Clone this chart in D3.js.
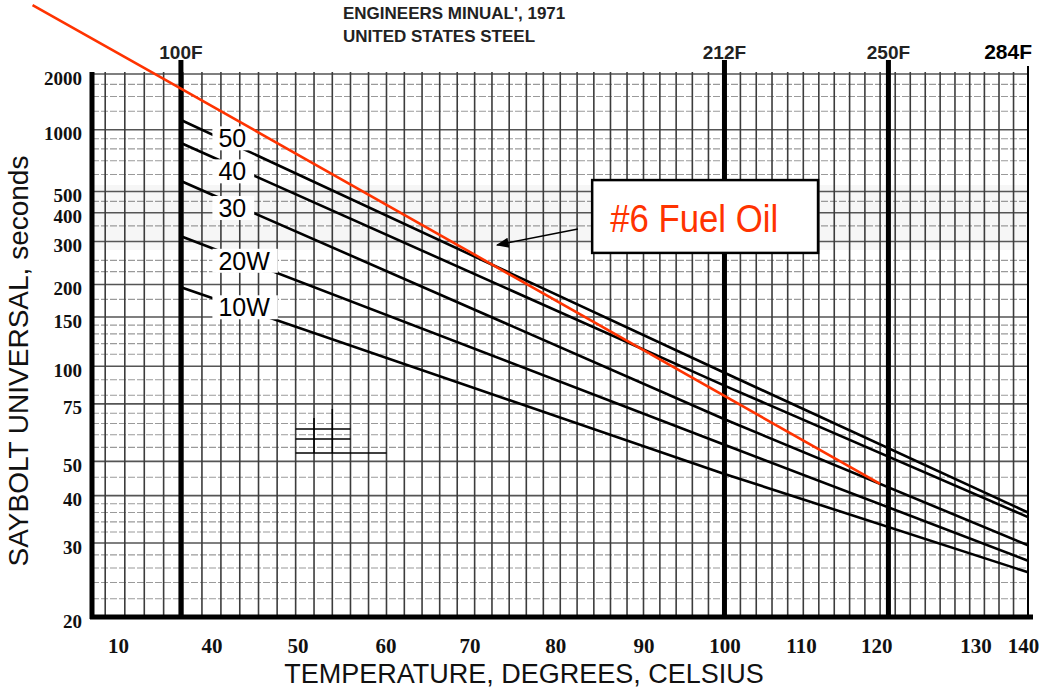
<!DOCTYPE html>
<html>
<head>
<meta charset="utf-8">
<script src="https://cdnjs.cloudflare.com/ajax/libs/d3/7.8.5/d3.min.js"></script>
<style>
  body { margin: 0; background: #fff; }
  svg { display: block; }
</style>
</head>
<body>
<svg id="chart" width="1039" height="689"></svg>
<script>
// viscosity in Saybolt Universal seconds, temperatures in Celsius
const oilNames = ["50", "40", "30", "20W", "10W"]
const oilTemps = [37.8, 100, 140]
const sus50 = [1124, 95, 36]
const sus40 = [857, 86, 35]
const sus30 = [559, 67, 29.6]
const sus20W = [316, 56, 27.1]
const sus10W = [195, 46, 25.4]

const fuelTemps = [22.7, 37.8, 120]
const fuelSus = [5194, 1658, 43.1]

const fLabels = ["100F", "212F", "250F", "284F"]
const fTemps = [37.8, 100, 121.1, 140]

// printed tick labels and where they sit on the scan
const xTickText = ["10", "40", "50", "60", "70", "80", "90", "100", "110", "120", "130", "140"]
const xTickTemps = [31.3, 41, 50.2, 59.9, 69.4, 79.4, 90, 100, 109.7, 119.5, 132.8, 139.3]
const yTicks = [20, 30, 40, 50, 75, 100, 150, 200, 300, 400, 500, 1000, 2000]
const yGrid = [20, 22, 24, 26, 28, 30, 32, 34, 36, 38, 40, 45, 50, 55, 60, 65, 70, 75, 80, 90,
               100, 110, 120, 130, 140, 150, 175, 200, 225, 250, 300, 350, 400, 450, 500,
               600, 700, 800, 900, 1000, 1250, 1500, 1750, 2000]

// small grid key drawn on the chart
const keyRowSus = [62.5, 58.3, 52.9]
const keyRowEnd = [56, 56, 60]
const keyColTemps = [52, 54]
const keyColTop = [67.6, 72.2]

const K = 273.15
const tMin = 28.66, tMax = 140
const susMin = 20, susMax = 2000

const svg = d3.select("#chart")
const font = "'Liberation Sans', Arial, sans-serif"
const serif = "'Liberation Serif', 'Times New Roman', serif"

svg.append("rect").attr("width", 1039).attr("height", 689).attr("fill", "#fff")

// ASTM style axes: log of absolute temperature, log-log of viscosity
const xScale = d3.scaleLog().domain([tMin + K, tMax + K]).range([92, 1028])
const x = c => xScale(c + K)
const ll = v => Math.log10(Math.log10(v))
const yScale = d3.scaleLinear().domain([ll(susMin), ll(susMax)]).range([617, 74])
const y = v => yScale(ll(v))

// darker scanned band
svg.append("rect")
  .attr("x", x(tMin))
  .attr("y", y(536))
  .attr("width", x(tMax) - x(tMin))
  .attr("height", y(276) - y(536))
  .attr("fill", "#000")
  .attr("opacity", 0.035)

const grid = svg.append("g")

grid.selectAll(".hgrid")
  .data(yGrid)
  .enter()
  .append("line")
  .attr("x1", x(tMin))
  .attr("x2", x(tMax))
  .attr("y1", d => y(d))
  .attr("y2", d => y(d))
  .attr("stroke", d => yTicks.includes(d) ? "#555" : "#9a9a9a")
  .attr("stroke-width", d => yTicks.includes(d) ? 1.6 : 1.1)
  .attr("stroke-dasharray", d => yTicks.includes(d) ? null : "7,2")

grid.selectAll(".vgrid")
  .data(d3.range(30, tMax, 2))
  .enter()
  .append("line")
  .attr("x1", d => x(d))
  .attr("x2", d => x(d))
  .attr("y1", y(susMax) - 2)
  .attr("y2", y(susMin))
  .attr("stroke", "#3c3c3c")
  .attr("stroke-width", 1.6)

// grid key
keyRowSus.forEach((s, i) => {
  svg.append("line")
    .attr("x1", x(50)).attr("x2", x(keyRowEnd[i]))
    .attr("y1", y(s)).attr("y2", y(s))
    .attr("stroke", "#000").attr("stroke-width", 1.5)
})
keyColTemps.forEach((t, i) => {
  svg.append("line")
    .attr("x1", x(t)).attr("x2", x(t))
    .attr("y1", y(keyColTop[i])).attr("y2", y(keyRowSus[2]))
    .attr("stroke", "#000").attr("stroke-width", 1.5)
})

// frame
svg.append("line")
  .attr("x1", x(tMin)).attr("x2", x(tMin))
  .attr("y1", y(susMax) - 2).attr("y2", y(susMin) + 2)
  .attr("stroke", "#000").attr("stroke-width", 5)
svg.append("line")
  .attr("x1", x(tMin) - 2).attr("x2", x(tMax) + 5)
  .attr("y1", y(susMin)).attr("y2", y(susMin))
  .attr("stroke", "#000").attr("stroke-width", 5)

// fahrenheit reference lines
svg.selectAll(".fline")
  .data(fTemps)
  .enter()
  .append("line")
  .attr("x1", d => x(d))
  .attr("x2", d => x(d))
  .attr("y1", (d, i) => i === 3 ? y(susMax) - 8 : y(susMax) - 14)
  .attr("y2", y(susMin))
  .attr("stroke", "#000")
  .attr("stroke-width", (d, i) => i === 3 ? 2 : 5)

svg.selectAll(".flabel")
  .data(fTemps)
  .enter()
  .append("text")
  .attr("x", (d, i) => i === 3 ? x(d) + 4 : x(d))
  .attr("y", 59)
  .attr("text-anchor", (d, i) => i === 3 ? "end" : "middle")
  .attr("font-family", font)
  .attr("font-weight", "bold")
  .attr("font-size", (d, i) => i === 3 ? 21 : 19)
  .attr("fill", (d, i) => i === 3 ? "#000" : "#222")
  .text((d, i) => fLabels[i])

// axes
const xAxis = d3.axisBottom(xScale)
  .tickValues(xTickTemps.map(t => t + K))
  .tickFormat((d, i) => xTickText[i])
  .tickSize(0)

const gx = svg.append("g")
  .attr("transform", `translate(0, ${y(susMin)})`)
  .call(xAxis)
gx.select(".domain").remove()
gx.selectAll("text")
  .attr("y", 36)
  .attr("dy", 0)
  .attr("font-family", serif)
  .attr("font-weight", "bold")
  .attr("font-size", 21)
  .attr("fill", "#111")

const yAxis = d3.axisLeft(yScale)
  .tickValues(yTicks.map(ll))
  .tickFormat((d, i) => yTicks[i])
  .tickSize(0)
  .tickPadding(10)

const gy = svg.append("g")
  .attr("transform", `translate(${x(tMin)}, 4)`)
  .call(yAxis)
gy.select(".domain").remove()
gy.selectAll("text")
  .attr("font-family", serif)
  .attr("font-weight", "bold")
  .attr("font-size", 19)
  .attr("fill", "#111")

// oil curves
const oilSeries = [sus50, sus40, sus30, sus20W, sus10W]
const line = d3.line()
  .x(d => x(d[0]))
  .y(d => y(d[1]))

oilSeries.forEach(series => {
  svg.append("path")
    .datum(oilTemps.map((t, i) => [t, series[i]]))
    .attr("d", line)
    .attr("fill", "none")
    .attr("stroke", "#000")
    .attr("stroke-width", 2.6)
})

// oil labels with white backing, nudged apart like the scan
const labelLeft = x(41.1)
const labelNudge = [-6, 5, 4, 0, -2]
oilSeries.forEach((series, k) => {
  const g = svg.append("g")
  const t = g.append("text")
    .attr("font-family", font)
    .attr("font-size", 25)
    .attr("fill", "#000")
    .text(oilNames[k])
  const w = t.node().getComputedTextLength()
  const x0 = x(oilTemps[0]), y0 = y(series[0])
  const x1 = x(oilTemps[1]), y1 = y(series[1])
  const cx = labelLeft + (w + 14) / 2
  const cy = y0 + (y1 - y0) * (cx - x0) / (x1 - x0) + labelNudge[k]
  g.insert("rect", "text")
    .attr("x", labelLeft)
    .attr("y", cy - 12)
    .attr("width", w + 14)
    .attr("height", 24)
    .attr("fill", "#fff")
  t.attr("x", labelLeft + 6).attr("y", cy + 9)
})

// #6 fuel oil
svg.append("path")
  .datum(fuelTemps.map((t, i) => [t, fuelSus[i]]))
  .attr("d", line)
  .attr("fill", "none")
  .attr("stroke", "#ff3300")
  .attr("stroke-width", 2.6)

// annotation box and arrow
const note = { left: 83.8, right: 111.9, top: 565, bottom: 268.5, fromT: 82.1, fromS: 339.6, tipT: 72.6, tipS: 290 }

svg.append("defs").append("marker")
  .attr("id", "arrow")
  .attr("viewBox", "0 0 10 10")
  .attr("refX", 9)
  .attr("refY", 5)
  .attr("markerWidth", 8)
  .attr("markerHeight", 8)
  .attr("orient", "auto")
  .append("path")
  .attr("d", "M0,1 L10,5 L0,9 Z")
  .attr("fill", "#000")

svg.append("line")
  .attr("x1", x(note.fromT)).attr("y1", y(note.fromS))
  .attr("x2", x(note.tipT)).attr("y2", y(note.tipS))
  .attr("stroke", "#000")
  .attr("stroke-width", 1.6)
  .attr("marker-end", "url(#arrow)")

svg.append("rect")
  .attr("x", x(note.left))
  .attr("y", y(note.top))
  .attr("width", x(note.right) - x(note.left))
  .attr("height", y(note.bottom) - y(note.top))
  .attr("fill", "#fff")
  .attr("stroke", "#000")
  .attr("stroke-width", 2.5)

svg.append("text")
  .attr("x", x(note.left) + 18)
  .attr("y", y(note.bottom) - 21)
  .attr("font-family", font)
  .attr("font-size", 38)
  .attr("textLength", 168)
  .attr("lengthAdjust", "spacingAndGlyphs")
  .attr("fill", "#ff3300")
  .text("#6 Fuel Oil")

// titles
svg.append("text")
  .attr("x", 343).attr("y", 19)
  .attr("font-family", font).attr("font-weight", "bold").attr("font-size", 17)
  .attr("fill", "#222")
  .text("ENGINEERS MINUAL', 1971")
svg.append("text")
  .attr("x", 343).attr("y", 42)
  .attr("font-family", font).attr("font-weight", "bold").attr("font-size", 17)
  .attr("fill", "#222")
  .text("UNITED STATES STEEL")

svg.append("text")
  .attr("transform", "translate(28, 361) rotate(-90)")
  .attr("text-anchor", "middle")
  .attr("font-family", font)
  .attr("font-size", 28)
  .attr("fill", "#111")
  .text("SAYBOLT UNIVERSAL, seconds")

svg.append("text")
  .attr("x", 524).attr("y", 683)
  .attr("text-anchor", "middle")
  .attr("font-family", font)
  .attr("font-size", 27)
  .attr("fill", "#111")
  .text("TEMPERATURE, DEGREES, CELSIUS")
</script>
</body>
</html>
